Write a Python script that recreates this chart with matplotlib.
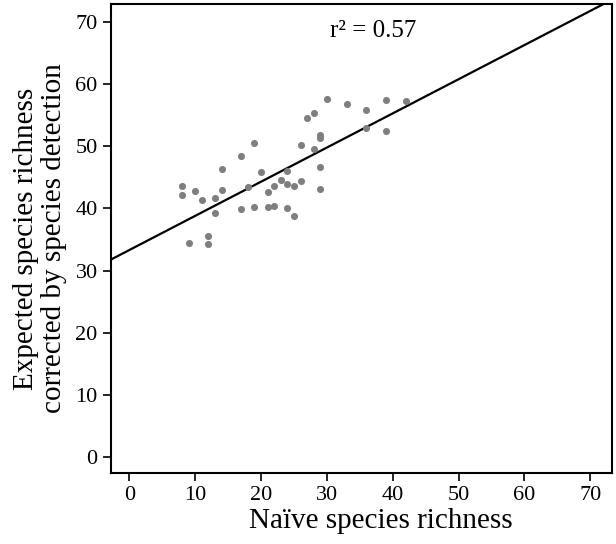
import numpy as np
import matplotlib.pyplot as plt

plt.rcParams['font.family'] = ['Liberation Serif', 'DejaVu Serif']

# naive richness vs. detection-corrected expected richness, one point per site
naive = [8, 8, 10, 11, 13, 14, 14, 13, 9, 12, 12, 17, 17, 18, 19, 19, 20, 21, 21, 22, 22,
         23, 24, 24, 25, 24, 25, 26, 26, 27, 28, 28, 29, 29, 29, 29, 30, 33, 36, 36, 39, 39, 42]
expected = [43.6, 42.1, 42.8, 41.3, 41.7, 43.0, 46.4, 39.3, 34.4, 35.5, 34.2, 48.4, 39.9,
            43.4, 50.5, 40.3, 45.9, 42.6, 40.2, 43.6, 40.4, 44.5, 46.1, 44.0, 43.6, 40.0,
            38.8, 44.4, 50.2, 54.5, 55.3, 49.6, 51.9, 51.3, 46.6, 43.1, 57.6, 56.8, 55.9,
            52.9, 57.4, 52.4, 57.3]

# fitted line
intercept = 33.3
slope = 0.55
r2 = 0.57

fig = plt.figure(figsize=(6.16, 5.44), dpi=100)
ax = fig.add_axes([0.18, 0.1305, 0.8135, 0.862])

ax.scatter(naive, expected, s=26, color='#7f7f7f', linewidths=0, zorder=3)

xl = np.array([-2.8, 73.3])
ax.plot(xl, intercept + slope * xl, color='black', lw=1.6, zorder=2)

ax.text(37.1, 68.6, f'r² = {r2:.2f}', ha='center', va='center', fontsize=18)

ax.set_xlim(-2.8, 73.3)
ax.set_ylim(-2.6, 72.9)
ax.set_xticks(range(0, 71, 10))
ax.set_yticks(range(0, 71, 10))
ax.tick_params(direction='out', length=6, width=1.2, labelsize=16, colors='black')
for sp in ax.spines.values():
    sp.set_linewidth(1.5)

ax.set_xlabel('Naïve species richness', fontsize=21, labelpad=1)
ax.xaxis.set_label_coords(0.538, -0.075)
ax.set_ylabel('Expected species richness\ncorrected by species detection', fontsize=21,
              linespacing=1.1, labelpad=6)

fig.savefig('out.png', dpi=100)
